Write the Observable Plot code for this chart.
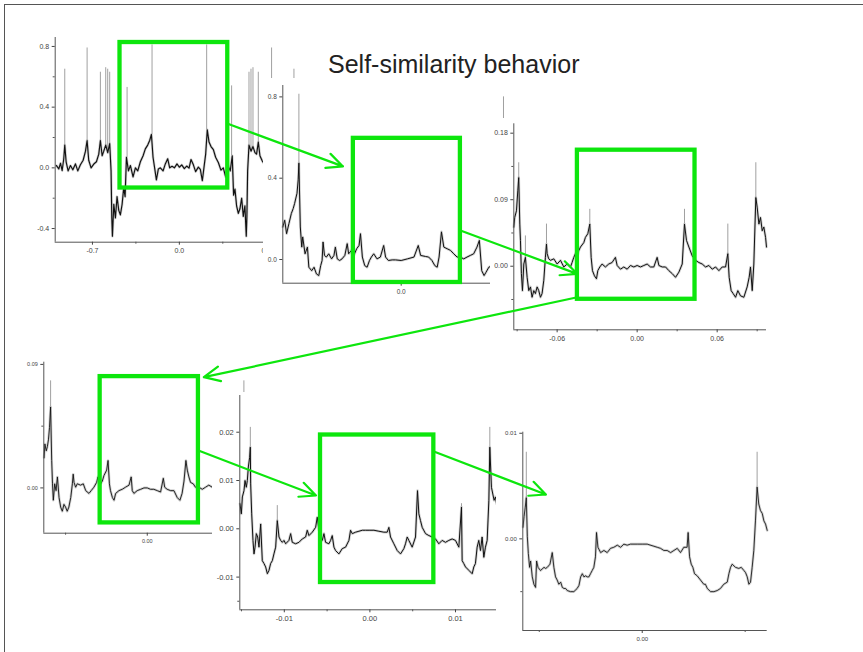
<!DOCTYPE html>
<html><head><meta charset="utf-8">
<script src="https://cdn.jsdelivr.net/npm/d3@7"></script>
<script src="https://cdn.jsdelivr.net/npm/@observablehq/plot@0.6"></script>
<style>
html,body{margin:0;padding:0;background:#fff;}
#stage{position:relative;width:863px;height:652px;overflow:hidden;background:#fff;font-family:"Liberation Sans",Arial,sans-serif;}
#stage svg{position:absolute;}
#frame{position:absolute;left:4px;top:4px;width:900px;height:700px;border-top:1.5px solid #555;border-left:1.5px solid #555;}
#title{position:absolute;left:328px;top:52px;font-size:25px;line-height:25px;color:#222;white-space:nowrap;z-index:5;}
</style></head><body>
<div id="stage"><div id="frame"></div></div>
<script>
const TITLE = "Self-similarity behavior";
const GREEN = "#0de60d";

// ---- Panel 1 (outer view) ----
const P1_LINE = [[-0.99,0.015],[-0.971,-0.007],[-0.957,0.03],[-0.944,-0.018],[-0.931,0.06],[-0.923,0.15],[-0.912,0.04],[-0.896,-0.02],[-0.877,0.015],[-0.858,-0.013],[-0.837,0.026],[-0.818,-0.02],[-0.797,0.02],[-0.775,0.05],[-0.756,0.11],[-0.743,0.18],[-0.73,0.05],[-0.711,0.0],[-0.689,0.025],[-0.668,0.04],[-0.649,0.09],[-0.636,0.18],[-0.622,0.08],[-0.609,0.11],[-0.593,0.15],[-0.577,0.10],[-0.561,0.16],[-0.55,-0.02],[-0.544,-0.33],[-0.539,-0.45],[-0.528,-0.24],[-0.515,-0.33],[-0.502,-0.19],[-0.488,-0.28],[-0.475,-0.31],[-0.461,-0.24],[-0.448,-0.13],[-0.437,-0.19],[-0.426,0.07],[-0.41,-0.02],[-0.394,0.015],[-0.373,-0.06],[-0.354,0.0],[-0.335,-0.02],[-0.314,0.04],[-0.292,0.08],[-0.274,0.125],[-0.255,0.15],[-0.239,0.18],[-0.225,0.22],[-0.212,0.07],[-0.198,-0.007],[-0.185,-0.08],[-0.169,-0.007],[-0.153,0.0],[-0.131,-0.02],[-0.113,0.026],[-0.094,0.06],[-0.078,0.0],[-0.059,0.01],[-0.04,0.0],[-0.019,0.026],[0,0.004],
[0.019,0.02],[0.04,-0.005],[0.059,0.012],[0.078,-0.002],[0.094,0.055],[0.113,0.02],[0.131,-0.025],[0.153,0.005],[0.169,-0.01],[0.185,-0.085],[0.198,0.0],[0.212,0.09],[0.225,0.25],[0.239,0.17],[0.255,0.14],[0.274,0.12],[0.292,0.07],[0.314,0.035],[0.335,-0.015],[0.354,0.0],[0.373,-0.06],[0.394,0.01],[0.41,-0.02],[0.426,0.08],[0.437,-0.18],[0.448,-0.14],[0.461,-0.25],[0.475,-0.30],[0.488,-0.27],[0.502,-0.2],[0.515,-0.32],[0.528,-0.25],[0.539,-0.45],[0.544,-0.32],[0.55,-0.02],[0.561,0.15],[0.577,0.11],[0.593,0.14],[0.609,0.10],[0.622,0.09],[0.636,0.17],[0.649,0.08],[0.668,0.045],[0.689,0.02],[0.711,0.0],[0.73,0.06],[0.743,0.18],[0.756,0.1],[0.775,0.05],[0.797,0.02],[0.818,-0.02],[0.837,0.025],[0.858,-0.01],[0.877,0.015],[0.896,-0.02],[0.912,0.04],[0.923,0.15],[0.931,0.06],[0.944,-0.02],[0.957,0.03],[0.971,-0.005],[0.99,0.015]];
const P1_SPIKES = [[-0.923,0.15,0.65],[-0.743,0.18,0.79],[-0.636,0.18,0.63],[-0.593,0.15,0.66],[-0.577,0.10,0.65],[-0.561,0.16,0.63],[-0.421,0.07,0.53],[-0.22,0.22,0.81],[0.22,0.25,0.81],[0.421,0.08,0.54],[0.561,0.15,0.63],[0.577,0.11,0.65],[0.593,0.14,0.66],[0.636,0.17,0.63],[0.743,0.18,0.79],[0.923,0.15,0.65]];
const P1_BOX = [-0.478, 0.390, -0.133, 0.826];
const P1_XTICKS = [-0.7, 0, 0.7], P1_XMINOR = [-0.35, 0.35];
const P1_YTICKS = [-0.4, 0, 0.4, 0.8], P1_YMINOR = [-0.2, 0.2, 0.6];

// ---- Panel 2 ----
const P2_LINE = [[-0.25,0.16],[-0.246,0.193],[-0.242,0.127],[-0.237,0.177],[-0.232,0.226],[-0.228,0.251],[-0.225,0.276],[-0.22,0.326],[-0.2175,0.392],[-0.216,0.474],[-0.213,0.16],[-0.21,0.061],[-0.208,0.111],[-0.203,0.028],[-0.198,0.061],[-0.195,-0.038],[-0.189,-0.055],[-0.184,-0.038],[-0.179,-0.071],[-0.174,-0.079],[-0.17,-0.03],[-0.167,-0.005],[-0.165,0.086],[-0.162,0.02],[-0.158,0.012],[-0.153,0.028],[-0.147,0.003],[-0.142,0.02],[-0.139,0.061],[-0.135,0.003],[-0.13,-0.005],[-0.125,0.003],[-0.119,0.02],[-0.114,0.078],[-0.111,0.028],[-0.105,0.045],[-0.1,0.02],[-0.094,0.053],[-0.089,0.069],[-0.086,0.127],[-0.082,0.012],[-0.077,-0.03],[-0.072,-0.038],[-0.067,-0.005],[-0.063,0.012],[-0.058,0.028],[-0.051,0.003],[-0.044,0.012],[-0.037,0.069],[-0.033,0.012],[-0.027,-0.005],[-0.019,-0.002],[-0.012,-0.002],[0,-0.005],[0.013,0.003],[0.027,0.012],[0.036,0.069],[0.041,0.02],[0.051,0.015],[0.058,0.012],[0.065,-0.005],[0.071,-0.03],[0.076,-0.038],[0.08,0.012],[0.085,0.136],[0.09,0.061],[0.097,0.053],[0.104,0.045],[0.111,0.028],[0.118,0.012],[0.125,0.012],[0.132,0.003],[0.139,0.012],[0.146,0.02],[0.153,0.028],[0.16,0.061],[0.165,0.094],[0.17,-0.055],[0.175,-0.079],[0.179,-0.063],[0.185,-0.038],[0.192,-0.03],[0.199,-0.02],[0.203,0.03],[0.208,0.11],[0.21,0.06],[0.213,0.16],[0.216,0.47],[0.218,0.39],[0.22,0.33],[0.225,0.28],[0.228,0.25],[0.232,0.23],[0.237,0.18],[0.242,0.13],[0.246,0.19],[0.25,0.16]];
const P2_SPIKES = [[-0.216,0.47,0.813],[0.216,0.47,0.80]];
const P2_BOX = [-0.101, 0.125, -0.113, 0.596];
const P2_XTICKS = [0], P2_XMINOR = [];
const P2_YTICKS = [0, 0.4, 0.8], P2_YMINOR = [];

// ---- Panel 3 ----
const P3_LINE = [[-0.0925,0.053],[-0.0918,0.066],[-0.0905,0.075],[-0.0895,0.102],[-0.0888,0.12],[-0.088,0.057],[-0.0875,0.035],[-0.0868,-0.01],[-0.086,-0.033],[-0.085,0.003],[-0.0838,0.012],[-0.0825,-0.015],[-0.0813,-0.033],[-0.08,-0.028],[-0.0788,-0.042],[-0.0775,-0.033],[-0.0763,-0.037],[-0.075,-0.028],[-0.0738,-0.033],[-0.0725,-0.042],[-0.0713,-0.037],[-0.07,-0.019],[-0.0688,0.012],[-0.068,0.03],[-0.0675,0.017],[-0.0663,0.01],[-0.065,0.008],[-0.0625,0.01],[-0.06,0.003],[-0.0575,0.008],[-0.055,-0.001],[-0.0525,0.003],[-0.05,-0.001],[-0.0488,0.005],[-0.0475,0.012],[-0.0463,0.017],[-0.045,0.012],[-0.0438,0.021],[-0.0425,0.026],[-0.04,0.032],[-0.0388,0.039],[-0.037,0.044],[-0.0355,0.057],[-0.0345,0.012],[-0.0335,-0.006],[-0.032,-0.013],[-0.0305,-0.017],[-0.0295,-0.006],[-0.028,-0.001],[-0.0263,0.003],[-0.0238,-0.001],[-0.0213,0.003],[-0.0188,0.005],[-0.0163,0.012],[-0.015,0.001],[-0.0125,-0.004],[-0.01,-0.001],[-0.0075,-0.004],[-0.005,0.001],[-0.0025,-0.001],[0,0.001],[0.0025,-0.001],[0.005,0.001],[0.0075,0.003],[0.01,-0.001],[0.0125,-0.001],[0.015,0.012],[0.0163,0.001],[0.0188,-0.001],[0.0213,-0.001],[0.0238,-0.006],[0.0263,-0.01],[0.0288,-0.015],[0.0313,-0.008],[0.0338,0.003],[0.0355,0.057],[0.037,0.035],[0.0388,0.026],[0.0413,0.014],[0.0438,0.008],[0.0463,0.005],[0.0488,0.003],[0.0513,-0.001],[0.0538,0.001],[0.0563,-0.004],[0.0588,-0.001],[0.0613,-0.006],[0.0638,-0.001],[0.0663,-0.001],[0.068,0.017],[0.069,-0.015],[0.0705,-0.033],[0.072,-0.037],[0.0738,-0.042],[0.0755,-0.033],[0.0775,-0.04],[0.08,-0.042],[0.0825,-0.028],[0.084,-0.015],[0.085,-0.001],[0.0863,-0.033],[0.0875,0.003],[0.089,0.093],[0.09,0.08],[0.0913,0.057],[0.0925,0.066],[0.0938,0.048],[0.095,0.053],[0.0963,0.039],[0.097,0.026]];
const P3_SPIKES = [[-0.0888,0.12,0.14],[-0.0838,0.012,0.041],[-0.068,0.03,0.057],[-0.0355,0.057,0.077],[0.0355,0.057,0.077],[0.068,0.017,0.057],[0.089,0.093,0.14]];
const P3_BOX = [-0.0448, 0.0434, -0.0447, 0.157];
const P3_XTICKS = [-0.06, 0, 0.06], P3_XMINOR = [-0.09, -0.03, 0.03, 0.09];
const P3_YTICKS = [0, 0.09, 0.18], P3_YMINOR = [-0.045, 0.045, 0.135];

// ---- Panel 4 ----
const P4_LINE = [[-0.0379,0.022],[-0.0376,0.032],[-0.0371,0.027],[-0.0367,0.03],[-0.0363,0.035],[-0.0359,0.044],[-0.0355,0.059],[-0.0351,0.02],[-0.0348,0.003],[-0.0345,-0.009],[-0.034,0.003],[-0.0335,-0.002],[-0.033,0.008],[-0.0324,-0.007],[-0.0318,-0.014],[-0.0312,-0.017],[-0.0306,-0.012],[-0.03,-0.014],[-0.0294,-0.017],[-0.0288,-0.014],[-0.0281,-0.007],[-0.0275,0.003],[-0.0272,0.01],[-0.0269,0.004],[-0.0263,0.0005],[-0.0257,0.003],[-0.0245,0.002],[-0.0235,0.003],[-0.0226,-0.002],[-0.0214,-0.004],[-0.0206,-0.002],[-0.0196,0.0005],[-0.0186,0.004],[-0.0181,0.008],[-0.0174,0.002],[-0.0165,0.005],[-0.0159,0.009],[-0.0149,0.013],[-0.0144,0.02],[-0.0139,0.003],[-0.0135,-0.002],[-0.0128,-0.007],[-0.0122,-0.009],[-0.0116,-0.004],[-0.0104,-0.002],[-0.0092,-0.001],[-0.008,0.0005],[-0.0067,0.002],[-0.0059,0.008],[-0.0055,-0.002],[-0.0049,-0.004],[-0.0037,-0.002],[-0.0024,-0.001],[-0.0012,0],[0,0],[0.0012,-0.001],[0.0024,-0.001],[0.0037,-0.002],[0.0049,-0.003],[0.0059,0.007],[0.0064,0.0005],[0.0073,-0.001],[0.0086,-0.002],[0.0098,-0.002],[0.011,-0.007],[0.012,-0.009],[0.0128,-0.004],[0.0135,0.005],[0.0142,0.02],[0.0147,0.013],[0.0153,0.008],[0.0159,0.004],[0.0169,0.003],[0.0177,0.0005],[0.019,0.0005],[0.0202,-0.001],[0.0214,0.0005],[0.0226,0.002],[0.0239,0.0005],[0.0245,0.002],[0.0257,0.003],[0.0269,0.004],[0.0272,0.01],[0.0275,0.003],[0.0281,-0.007],[0.0288,-0.014],[0.03,-0.014],[0.0312,-0.017],[0.0324,-0.007],[0.033,0.008],[0.034,0.003],[0.0345,-0.009],[0.0351,0.02],[0.0355,0.059],[0.0363,0.035],[0.0371,0.027],[0.0379,0.022]];
const P4_SPIKES = [[-0.0355,0.059,0.078],[0.0355,0.059,0.078]];
const P4_BOX = [-0.0173, 0.0188, -0.0255, 0.0811];
const P4_XTICKS = [0], P4_XMINOR = [-0.03, 0.03];
const P4_YTICKS = [0, 0.09], P4_YMINOR = [0.045];

// ---- Panel 5 ----
const P5_LINE = [[-0.01518,0.0052],[-0.01502,0.0031],[-0.0149,0.0066],[-0.01471,0.0079],[-0.01459,0.01],[-0.01444,0.0086],[-0.01432,0.01],[-0.0142,0.0128],[-0.01405,0.0148],[-0.01397,0.0169],[-0.01393,0.0093],[-0.01381,0.0031],[-0.01366,-0.0024],[-0.01354,-0.0052],[-0.01342,-0.0038],[-0.01327,-0.001],[-0.01311,-0.0017],[-0.01296,-0.0038],[-0.01276,0.001],[-0.01257,-0.0066],[-0.01237,-0.0072],[-0.01218,-0.0079],[-0.01198,-0.0093],[-0.01179,-0.0086],[-0.0116,-0.0072],[-0.0114,-0.0066],[-0.01121,-0.0052],[-0.01101,-0.0038],[-0.01082,0.0017],[-0.01062,-0.0017],[-0.01043,-0.0024],[-0.01023,-0.0028],[-0.01004,-0.0024],[-0.00984,-0.0031],[-0.00946,-0.0024],[-0.00926,-0.001],[-0.00907,-0.0028],[-0.00868,-0.0031],[-0.00829,-0.0028],[-0.0079,-0.0021],[-0.00751,-0.0017],[-0.00732,-0.0003],[-0.00712,-0.0014],[-0.00673,-0.0007],[-0.00634,0.0003],[-0.00615,0.0024],[-0.00595,-0.0003],[-0.00576,-0.001],[-0.00556,-0.0024],[-0.00537,-0.001],[-0.00518,-0.0028],[-0.00479,-0.0031],[-0.00459,-0.0024],[-0.0044,-0.0014],[-0.0042,-0.0038],[-0.00401,-0.0045],[-0.00362,-0.0052],[-0.00323,-0.0041],[-0.00284,-0.0038],[-0.00245,-0.0024],[-0.00226,-0.0003],[-0.00206,-0.001],[-0.00167,-0.0007],[-0.00128,-0.0005],[-0.00089,-0.0003],[-0.00051,-0.0003],[0,-0.0003],[0.00047,-0.0003],[0.00105,-0.0005],[0.00163,-0.0007],[0.00202,-0.0007],[0.00222,0.0003],[0.00241,-0.0017],[0.0028,-0.0031],[0.00319,-0.0045],[0.00358,-0.0052],[0.00397,-0.0041],[0.00416,-0.0031],[0.00436,-0.0017],[0.00455,-0.0024],[0.00494,-0.0038],[0.00533,-0.0017],[0.00556,0.0079],[0.00572,0.0031],[0.00591,0.0017],[0.00611,0.0003],[0.0065,-0.001],[0.00689,-0.0014],[0.00728,-0.0017],[0.00767,-0.0021],[0.00805,-0.0031],[0.00844,-0.0024],[0.00883,-0.0028],[0.00922,-0.0024],[0.00961,-0.0021],[0.01,-0.0024],[0.01039,-0.0038],[0.0107,0.0045],[0.01078,-0.0066],[0.01097,-0.0072],[0.01117,-0.0079],[0.01156,-0.0086],[0.01195,-0.0093],[0.01214,-0.0079],[0.01233,-0.0072],[0.01253,-0.0038],[0.01272,-0.0024],[0.01292,-0.0045],[0.01311,-0.0017],[0.01331,-0.0059],[0.0135,-0.0038],[0.0137,-0.0024],[0.0139,0.0059],[0.01401,0.0169],[0.0142,0.0086],[0.01436,0.0072],[0.01451,0.0059],[0.01467,0.0066],[0.0148,0.0052]];
const P5_SPIKES = [[-0.01397,0.0169,0.021],[-0.01082,0.0017,0.0048],[0.0107,0.0045,0.0052],[0.01401,0.0169,0.021]];
const P5_BOX = [-0.00577, 0.00747, -0.01112, 0.01942];
const P5_XTICKS = [-0.01, 0, 0.01], P5_XMINOR = [-0.015, -0.005, 0.005, 0.015];
const P5_YTICKS = [-0.01, 0, 0.01, 0.02], P5_YMINOR = [-0.015];

// ---- Panel 6 (innermost) ----
const P6_LINE = [[-0.00579,0.0011],[-0.00574,0.0021],[-0.00568,0.003],[-0.00563,0.0039],[-0.00558,0.0002],[-0.00553,-0.0014],[-0.00547,-0.0027],[-0.00542,-0.0021],[-0.00534,-0.0036],[-0.00526,-0.0043],[-0.00518,-0.0046],[-0.00513,-0.0021],[-0.00506,-0.0027],[-0.00494,-0.003],[-0.00477,-0.0027],[-0.00469,-0.0028],[-0.00461,-0.0027],[-0.00448,-0.0024],[-0.00437,-0.0013],[-0.00429,-0.0027],[-0.00421,-0.0036],[-0.00413,-0.0039],[-0.00405,-0.0043],[-0.00396,-0.0041],[-0.00388,-0.0046],[-0.0038,-0.0047],[-0.00372,-0.0047],[-0.00364,-0.0049],[-0.00348,-0.005],[-0.00332,-0.005],[-0.00316,-0.0047],[-0.00307,-0.0044],[-0.00299,-0.0036],[-0.00291,-0.0033],[-0.00283,-0.0036],[-0.00275,-0.0035],[-0.00267,-0.0036],[-0.00259,-0.0036],[-0.00251,-0.0033],[-0.00243,-0.003],[-0.00235,-0.0027],[-0.00227,-0.0017],[-0.00222,0.0006],[-0.00215,-0.0008],[-0.00202,-0.0013],[-0.00186,-0.0011],[-0.0017,-0.0013],[-0.00154,-0.0009],[-0.00138,-0.0008],[-0.00121,-0.0006],[-0.00105,-0.0008],[-0.00089,-0.0005],[-0.00073,-0.0006],[-0.00057,-0.0005],[-0.0004,-0.0005],[-0.00024,-0.0005],[0,-0.0005],[0.00024,-0.0005],[0.00057,-0.0007],[0.00073,-0.0008],[0.00089,-0.0009],[0.00105,-0.0011],[0.00121,-0.0011],[0.00138,-0.0013],[0.00154,-0.0011],[0.0017,-0.0009],[0.00186,-0.0013],[0.00202,-0.0008],[0.00218,-0.0008],[0.00223,0.0006],[0.0023,-0.0017],[0.00238,-0.0024],[0.00246,-0.0027],[0.00254,-0.0033],[0.00267,-0.0035],[0.00283,-0.0039],[0.00299,-0.0043],[0.00307,-0.0043],[0.00316,-0.0047],[0.00332,-0.005],[0.00348,-0.005],[0.00364,-0.0049],[0.0038,-0.0047],[0.00396,-0.0043],[0.00413,-0.0041],[0.00421,-0.0033],[0.00429,-0.0027],[0.00437,-0.0024],[0.00453,-0.0027],[0.00469,-0.0028],[0.00481,-0.0027],[0.00494,-0.003],[0.00502,-0.0032],[0.0051,-0.0036],[0.00518,-0.0043],[0.00526,-0.0041],[0.00534,-0.0027],[0.00542,-0.0011],[0.0055,0.0017],[0.00558,0.0049],[0.00566,0.0033],[0.00574,0.0027],[0.00583,0.0024],[0.00591,0.0017],[0.00599,0.0014],[0.00607,0.0008]];
const P6_SPIKES = [[-0.00563,0.0039,0.0082],[0.00558,0.0049,0.0082]];
const P6_BOX = null;
const P6_XTICKS = [0], P6_XMINOR = [-0.005, 0.005];
const P6_YTICKS = [0, 0.01], P6_YMINOR = [-0.005];

// Arrows: [fromPanel, x, y, toPanel, x, y] in each panel's data units
const ARROWS = [
  [0, 0.39, 0.29, 1, -0.123, 0.458],
  [1, 0.125, 0.143, 2, -0.045, -0.0103],
  [2, -0.0448, -0.042, 3, 0.0208, 0.0807],
  [3, 0.0188, 0.0272, 4, -0.0063, 0.0069],
  [4, 0.00747, 0.016, 5, -0.00468, 0.0042]
];

// Layout (page pixels)
const PANELS = [
  {line:P1_LINE, spikes:P1_SPIKES, box:P1_BOX, xt:P1_XTICKS, xm:P1_XMINOR, yt:P1_YTICKS, ym:P1_YMINOR, xd:[-1,1], yd:[-0.49,0.859], dec:1, fs:7,
   left:6, top:6, w:300, h:252, ml:48.7, mr:3, mt:31, mb:16.3, lw:1.15},
  {line:P2_LINE, spikes:P2_SPIKES, box:P2_BOX, xt:P2_XTICKS, xm:P2_XMINOR, yt:P2_YTICKS, ym:P2_YMINOR, xd:[-0.25,0.25], yd:[-0.1166,0.856], dec:1, fs:6.5,
   left:263, top:78, w:261, h:222, ml:19.3, mr:4.9, mt:7, mb:17.3, lw:1.0},
  {line:P3_LINE, spikes:P3_SPIKES, box:P3_BOX, xt:P3_XTICKS, xm:P3_XMINOR, yt:P3_YTICKS, ym:P3_YMINOR, xd:[-0.0925,0.097], yd:[-0.086,0.1927], dec:2, fs:7,
   left:490, top:118, w:285, h:232, ml:23.3, mr:9, mt:5.3, mb:20.7, lw:1.0},
  {line:P4_LINE, spikes:P4_SPIKES, box:P4_BOX, xt:P4_XTICKS, xm:P4_XMINOR, yt:P4_YTICKS, ym:P4_YMINOR, xd:[-0.038,0.038], yd:[-0.033,0.0916], dec:2, fs:5.5,
   left:6, top:355, w:250, h:195, ml:37.3, mr:5.8, mt:6.7, mb:17.3, lw:0.9},
  {line:P5_LINE, spikes:P5_SPIKES, box:P5_BOX, xt:P5_XTICKS, xm:P5_XMINOR, yt:P5_YTICKS, ym:P5_YMINOR, xd:[-0.0152,0.0152], yd:[-0.01677,0.0276], dec:2, fs:7.5,
   left:212, top:392, w:290, h:240, ml:27.3, mr:2.5, mt:3, mb:22.7, lw:1.0},
  {line:P6_LINE, spikes:P6_SPIKES, box:P6_BOX, xt:P6_XTICKS, xm:P6_XMINOR, yt:P6_YTICKS, ym:P6_YMINOR, xd:[-0.0058,0.00607], yd:[-0.00868,0.0101], dec:2, fs:6,
   left:496, top:420, w:280, h:232, ml:26.3, mr:9.3, mt:11.7, mb:22, lw:0.85}
];

const stage = document.getElementById("stage");
const FONT = "'Liberation Sans', Arial, Helvetica, sans-serif";

PANELS.forEach(p => {
  const pts = p.line.map(([x, y]) => ({x, y}));
  const sp = p.spikes.map(([x, b, t]) => ({x, b, t}));
  const fmt = d => d.toFixed(p.dec);
  const marks = [
    Plot.ruleX(sp, {x: "x", y1: "b", y2: "t", stroke: "#a0a0a0", strokeWidth: 1}),
    Plot.line(pts, {x: "x", y: "y", stroke: "#8a8a8a", strokeWidth: 2.6, strokeOpacity: 0.4}),
    Plot.line(pts, {x: "x", y: "y", stroke: "#111", strokeWidth: p.lw}),
    Plot.ruleX([p.xd[0]], {stroke: "#555", strokeWidth: 1}),
    Plot.ruleY([p.yd[0]], {stroke: "#555", strokeWidth: 1}),
    Plot.axisY(p.yt, {tickSize: 3, tickPadding: 3, tickFormat: fmt, fontSize: p.fs, color: "#444", label: null}),
    Plot.axisX(p.xt, {tickSize: 3, tickPadding: 3, tickFormat: fmt, fontSize: p.fs, color: "#444", label: null})
  ];
  if (p.ym.length) marks.push(Plot.axisY(p.ym, {tickSize: 2, tickFormat: () => "", color: "#555", label: null}));
  if (p.xm.length) marks.push(Plot.axisX(p.xm, {tickSize: 2, tickFormat: () => "", color: "#555", label: null}));
  if (p.box) marks.push(Plot.rect([{x1: p.box[0], x2: p.box[1], y1: p.box[2], y2: p.box[3]}],
    {x1: "x1", x2: "x2", y1: "y1", y2: "y2", fill: "none", stroke: GREEN, strokeWidth: 4.3}));
  const chart = Plot.plot({
    width: p.w, height: p.h,
    marginLeft: p.ml, marginRight: p.mr, marginTop: p.mt, marginBottom: p.mb,
    x: {domain: p.xd, label: null},
    y: {domain: p.yd, label: null},
    style: {background: "white", fontFamily: FONT, fontSize: p.fs + "px", color: "#444"},
    marks
  });
  chart.style.left = p.left + "px";
  chart.style.top = p.top + "px";
  chart.style.maxWidth = "none";
  stage.appendChild(chart);
  p.chart = chart;
});

const arrowData = ARROWS.map(([a, ax, ay, b, bx, by]) => {
  const A = PANELS[a], B = PANELS[b];
  return {
    x1: A.left + A.chart.scale("x").apply(ax), y1: A.top + A.chart.scale("y").apply(ay),
    x2: B.left + B.chart.scale("x").apply(bx), y2: B.top + B.chart.scale("y").apply(by)
  };
});

const overlay = Plot.plot({
  width: 863, height: 652, margin: 0,
  x: {type: "identity", axis: null}, y: {type: "identity", axis: null},
  style: {background: "transparent"},
  marks: [
    Plot.arrow(arrowData, {x1: "x1", y1: "y1", x2: "x2", y2: "y2", stroke: GREEN, strokeWidth: 2.2, headLength: 12, headAngle: 50, inset: 0})
  ]
});
overlay.style.left = "0px"; overlay.style.top = "0px"; overlay.style.maxWidth = "none";
overlay.style.pointerEvents = "none";
stage.appendChild(overlay);

const t = document.createElement("div");
t.id = "title"; t.textContent = TITLE;
stage.appendChild(t);
</script>
</body></html>
